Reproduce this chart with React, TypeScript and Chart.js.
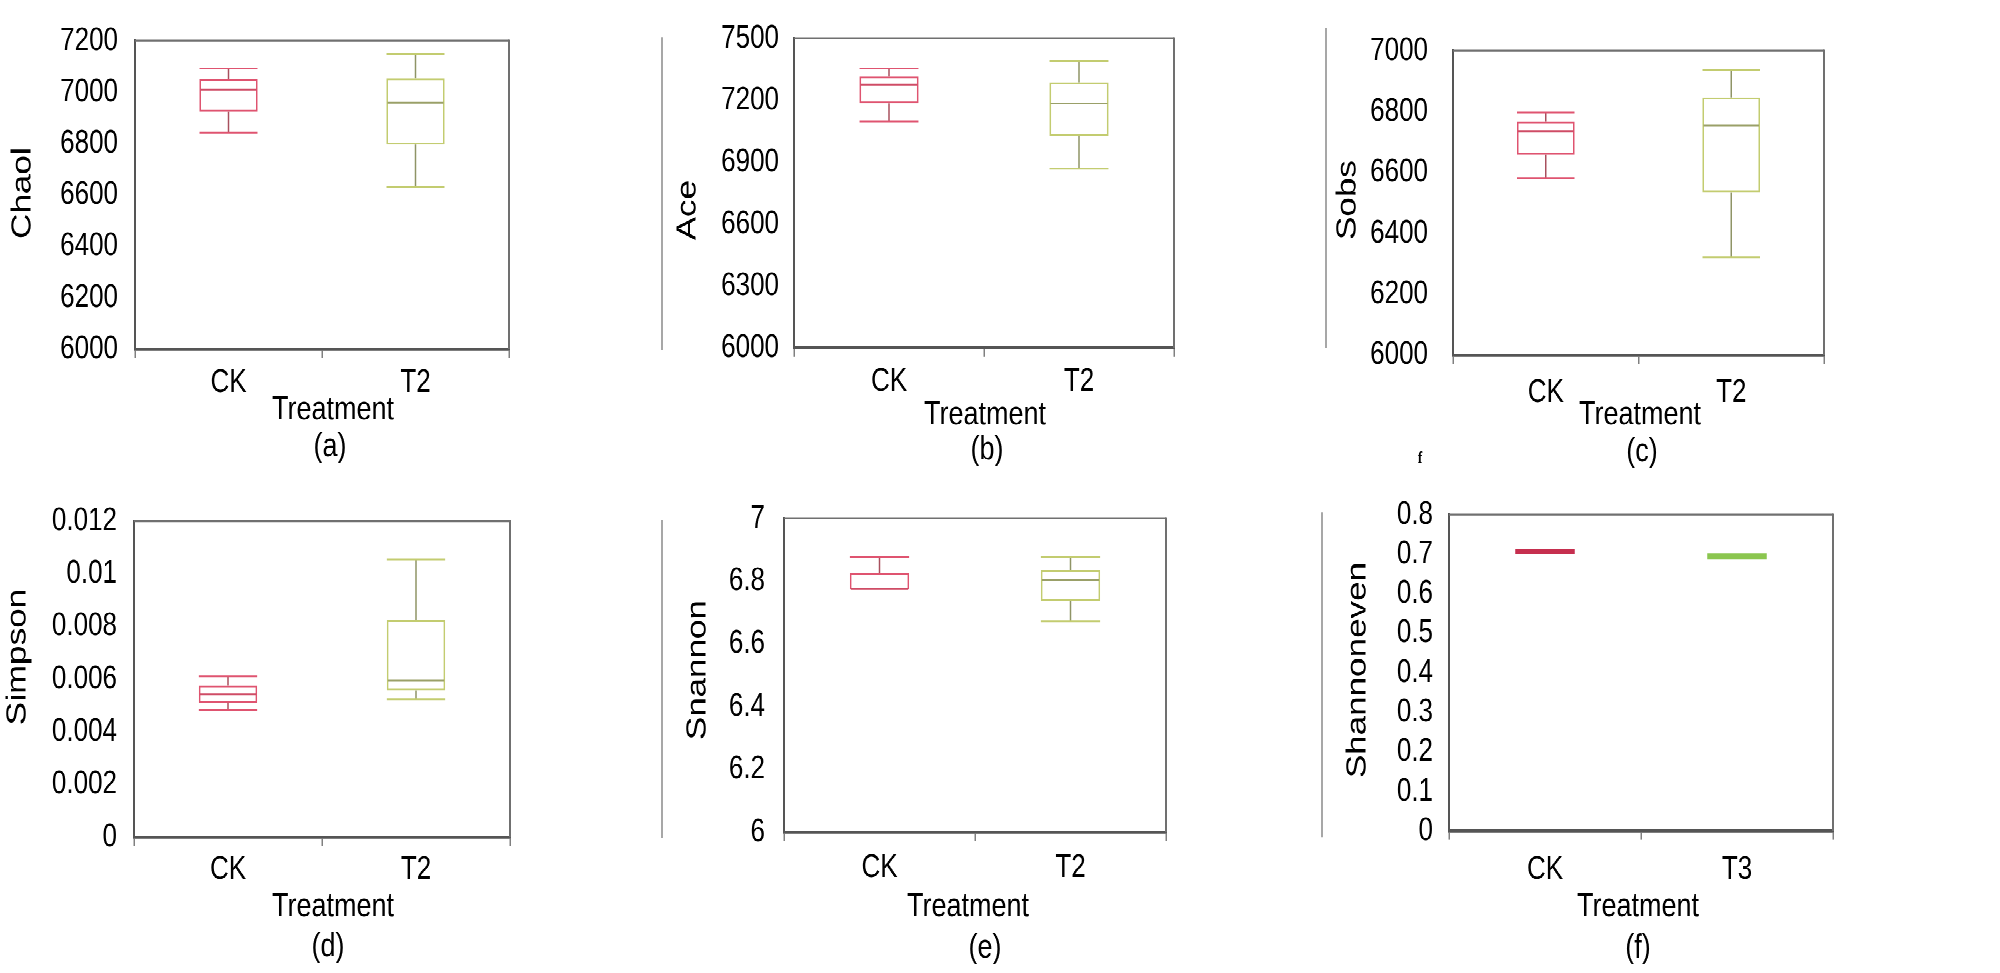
import React, { useEffect, useRef } from 'react';
import { Chart, registerables } from 'chart.js';

Chart.register(...registerables);

// ---------------- data ----------------
const chaolCategories = ['CK', 'T2'];
const chaolMin = [6842, 6632];
const chaolQ1 = [6924, 6796];
const chaolMedian = [7010, 6959];
const chaolQ3 = [7050, 7054];
const chaolMax = [7092, 7148];
const chaolTicks = [6000, 6200, 6400, 6600, 6800, 7000, 7200];
const chaolTickLabels = ['6000', '6200', '6400', '6600', '6800', '7000', '7200'];

const aceCategories = ['CK', 'T2'];
const aceMin = [7098, 6869];
const aceQ1 = [7185, 7027];
const aceMedian = [7276, 7184];
const aceQ3 = [7315, 7287];
const aceMax = [7354, 7390];
const aceTicks = [6000, 6300, 6600, 6900, 7200, 7500];
const aceTickLabels = ['6000', '6300', '6600', '6900', '7200', '7500'];

const sobsCategories = ['CK', 'T2'];
const sobsMin = [6582, 6321];
const sobsQ1 = [6658, 6535];
const sobsMedian = [6736, 6754];
const sobsQ3 = [6767, 6847];
const sobsMax = [6797, 6938];
const sobsTicks = [6000, 6200, 6400, 6600, 6800, 7000];
const sobsTickLabels = ['6000', '6200', '6400', '6600', '6800', '7000'];

const simpsonCategories = ['CK', 'T2'];
const simpsonMin = [0.00481, 0.00523];
const simpsonQ1 = [0.00511, 0.00557];
const simpsonMedian = [0.00542, 0.00594];
const simpsonQ3 = [0.00576, 0.00824];
const simpsonMax = [0.00611, 0.01054];
const simpsonTicks = [0, 0.002, 0.004, 0.006, 0.008, 0.01, 0.012];
const simpsonTickLabels = ['0', '0.002', '0.004', '0.006', '0.008', '0.01', '0.012'];

const shannonCategories = ['CK', 'T2'];
const shannonMin = [6.773, 6.672];
const shannonQ1 = [6.773, 6.736];
const shannonMedian = [6.775, 6.802];
const shannonQ3 = [6.825, 6.835];
const shannonMax = [6.876, 6.876];
const shannonTicks = [6, 6.2, 6.4, 6.6, 6.8, 7];
const shannonTickLabels = ['6', '6.2', '6.4', '6.6', '6.8', '7'];

const evenCategories = ['CK', 'T3'];
const evenMin = [0.7, 0.686];
const evenQ1 = [0.7, 0.686];
const evenMedian = [0.706, 0.694];
const evenQ3 = [0.712, 0.702];
const evenMax = [0.712, 0.702];
const evenTicks = [0, 0.1, 0.2, 0.3, 0.4, 0.5, 0.6, 0.7, 0.8];
const evenTickLabels = ['0', '0.1', '0.2', '0.3', '0.4', '0.5', '0.6', '0.7', '0.8'];

// ---------------- style / layout ----------------
const K = 1.25; // vertical stretch of the whole figure
const FONT = '"Liberation Sans", Arial, Helvetica, sans-serif';
const ROWS = [
  { y0: 0, h: 380 },
  { y0: 380, h: 398 },
];

const BOX_COLORS = ['#df5470', '#c3cc70'];
const MEDIAN_COLORS = ['#cf4c66', '#9aa068'];
const STEM_COLORS = ['#a8505e', '#8f9466'];
const FILL_COLORS = ['#c62f4f', '#8bc64f'];

type TitleItem = { text: string; x: number; y: number; rot?: boolean; font?: string };
type EdgeLine = { x: number; y0: number; y1: number };
type Geom = { cx0: number; cx1: number; row: number; L: number; R: number; T: number; B: number; yPad: number; xPad: number };
type PanelSpec = {
  key: string;
  categories: string[];
  mins: number[];
  q1s: number[];
  medians: number[];
  q3s: number[];
  maxs: number[];
  ticks: number[];
  tickLabels: string[];
  filled?: boolean;
  geom: Geom;
  titles: TitleItem[];
  edges?: EdgeLine[];
};

const YT = `28px ${FONT}`;
const XT = `27px ${FONT}`;

const PANELS: PanelSpec[] = [
  {
    key: 'a', categories: chaolCategories, mins: chaolMin, q1s: chaolQ1, medians: chaolMedian, q3s: chaolQ3, maxs: chaolMax,
    ticks: chaolTicks, tickLabels: chaolTickLabels,
    geom: { cx0: 0, cx1: 640, row: 0, L: 135, R: 509, T: 34, B: 349, yPad: 17, xPad: 4.5 },
    titles: [
      { text: 'Chaol', x: 23, y: 193, rot: true, font: YT },
      { text: 'Treatment', x: 333, y: 410, font: XT },
      { text: '(a)', x: 330, y: 447, font: XT },
    ],
  },
  {
    key: 'b', categories: aceCategories, mins: aceMin, q1s: aceQ1, medians: aceMedian, q3s: aceQ3, maxs: aceMax,
    ticks: aceTicks, tickLabels: aceTickLabels,
    geom: { cx0: 640, cx1: 1300, row: 0, L: 794, R: 1174, T: 28, B: 348, yPad: 15, xPad: 4.5 },
    titles: [
      { text: 'Ace', x: 688, y: 210, rot: true, font: YT },
      { text: 'Treatment', x: 985, y: 415, font: XT },
      { text: '(b)', x: 987, y: 450, font: XT },
    ],
    edges: [{ x: 662, y0: 37, y1: 350 }],
  },
  {
    key: 'c', categories: sobsCategories, mins: sobsMin, q1s: sobsQ1, medians: sobsMedian, q3s: sobsQ3, maxs: sobsMax,
    ticks: sobsTicks, tickLabels: sobsTickLabels,
    geom: { cx0: 1300, cx1: 2000, row: 0, L: 1453, R: 1824, T: 43, B: 355, yPad: 25, xPad: 7.5 },
    titles: [
      { text: 'Sobs', x: 1348, y: 200, rot: true, font: YT },
      { text: 'Treatment', x: 1640, y: 415, font: XT },
      { text: '(c)', x: 1642, y: 452, font: XT },
      { text: 'f', x: 1420, y: 458, font: `bold 13px "Liberation Serif", "DejaVu Serif", serif` },
    ],
    edges: [{ x: 1326, y0: 28, y1: 348 }],
  },
  {
    key: 'd', categories: simpsonCategories, mins: simpsonMin, q1s: simpsonQ1, medians: simpsonMedian, q3s: simpsonQ3, maxs: simpsonMax,
    ticks: simpsonTicks, tickLabels: simpsonTickLabels,
    geom: { cx0: 0, cx1: 640, row: 1, L: 134, R: 510, T: 521, B: 837, yPad: 17, xPad: 3.5 },
    titles: [
      { text: 'Simpson', x: 18, y: 657, rot: true, font: YT },
      { text: 'Treatment', x: 333, y: 907, font: XT },
      { text: '(d)', x: 328, y: 947, font: XT },
    ],
  },
  {
    key: 'e', categories: shannonCategories, mins: shannonMin, q1s: shannonQ1, medians: shannonMedian, q3s: shannonQ3, maxs: shannonMax,
    ticks: shannonTicks, tickLabels: shannonTickLabels,
    geom: { cx0: 640, cx1: 1300, row: 1, L: 784, R: 1166, T: 512, B: 832, yPad: 19, xPad: 6 },
    titles: [
      { text: 'Snannon', x: 698, y: 670, rot: true, font: YT },
      { text: 'Treatment', x: 968, y: 907, font: XT },
      { text: '(e)', x: 985, y: 948, font: XT },
    ],
    edges: [{ x: 662, y0: 520, y1: 838 }],
  },
  {
    key: 'f', categories: evenCategories, mins: evenMin, q1s: evenQ1, medians: evenMedian, q3s: evenQ3, maxs: evenMax,
    ticks: evenTicks, tickLabels: evenTickLabels, filled: true,
    geom: { cx0: 1300, cx1: 2000, row: 1, L: 1449, R: 1833, T: 510, B: 831, yPad: 16, xPad: 8.5 },
    titles: [
      { text: 'Shannoneven', x: 1358, y: 670, rot: true, font: YT },
      { text: 'Treatment', x: 1638, y: 907, font: XT },
      { text: '(f)', x: 1638, y: 948, font: XT },
    ],
    edges: [{ x: 1322, y0: 512, y1: 837 }],
  },
];

// ---------------- plugins ----------------
function makeWhiskerPlugin(spec: PanelSpec) {
  return {
    id: 'boxWhiskers',
    afterDatasetsDraw(chart: any) {
      const meta = chart.getDatasetMeta(0);
      const y = chart.scales.y;
      const ctx = chart.ctx as CanvasRenderingContext2D;
      const line = (x1: number, y1: number, x2: number, y2: number) => {
        ctx.beginPath();
        ctx.moveTo(x1, y1);
        ctx.lineTo(x2, y2);
        ctx.stroke();
      };
      ctx.save();
      ctx.lineWidth = 1.5;
      meta.data.forEach((bar: any, i: number) => {
        const { x, width } = bar.getProps(['x', 'width'], true);
        const half = width / 2;
        const pMin = y.getPixelForValue(spec.mins[i]);
        const pQ1 = y.getPixelForValue(spec.q1s[i]);
        const pMed = y.getPixelForValue(spec.medians[i]);
        const pQ3 = y.getPixelForValue(spec.q3s[i]);
        const pMax = y.getPixelForValue(spec.maxs[i]);
        const stem = spec.filled ? FILL_COLORS[i] : STEM_COLORS[i];
        const cap = spec.filled ? FILL_COLORS[i] : BOX_COLORS[i];
        const med = spec.filled ? FILL_COLORS[i] : MEDIAN_COLORS[i];
        ctx.strokeStyle = stem;
        if (pMax < pQ3) line(x, pQ3, x, pMax);
        if (pMin > pQ1) line(x, pQ1, x, pMin);
        ctx.strokeStyle = cap;
        if (pMax < pQ3 - 0.5) line(x - half, pMax, x + half, pMax);
        if (pMin > pQ1 + 0.5) line(x - half, pMin, x + half, pMin);
        ctx.strokeStyle = med;
        line(x - half + 1, pMed, x + half - 1, pMed);
      });
      ctx.restore();
    },
  };
}

const framePlugin = {
  id: 'frameTopRight',
  afterDraw(chart: any) {
    const { left, right, top, bottom } = chart.chartArea;
    const ctx = chart.ctx as CanvasRenderingContext2D;
    ctx.save();
    ctx.strokeStyle = '#707070';
    ctx.lineWidth = 1.6;
    ctx.beginPath();
    ctx.moveTo(left, top);
    ctx.lineTo(right, top);
    ctx.stroke();
    ctx.lineWidth = 2;
    ctx.beginPath();
    ctx.moveTo(right, top - 0.8);
    ctx.lineTo(right, bottom);
    ctx.stroke();
    ctx.restore();
  },
};

function makeTitlePlugin(spec: PanelSpec) {
  const g = spec.geom;
  const row = ROWS[g.row];
  return {
    id: 'panelTitles',
    afterDraw(chart: any) {
      const ctx = chart.ctx as CanvasRenderingContext2D;
      (spec.edges || []).forEach((e) => {
        ctx.save();
        ctx.strokeStyle = '#8a8a8a';
        ctx.lineWidth = 1.5;
        ctx.beginPath();
        ctx.moveTo(e.x - g.cx0, e.y0 / K - row.y0);
        ctx.lineTo(e.x - g.cx0, e.y1 / K - row.y0);
        ctx.stroke();
        ctx.restore();
      });
      spec.titles.forEach((t) => {
        ctx.save();
        ctx.translate(t.x - g.cx0, t.y / K - row.y0);
        if (t.rot) ctx.rotate(-Math.PI / 2);
        ctx.font = t.font || XT;
        ctx.fillStyle = '#000';
        ctx.textAlign = 'center';
        ctx.textBaseline = 'middle';
        ctx.fillText(t.text, 0, 0);
        ctx.restore();
      });
    },
  };
}

// ---------------- components ----------------
function Panel({ spec }: { spec: PanelSpec }) {
  const ref = useRef<HTMLCanvasElement>(null);
  const g = spec.geom;
  const row = ROWS[g.row];
  const width = g.cx1 - g.cx0;
  const height = row.h;

  useEffect(() => {
    const canvas = ref.current;
    if (!canvas) return;
    const padTop = g.T / K - row.y0;
    const xAxisH = row.y0 + row.h - g.B / K;
    const yAxisW = g.L - g.cx0;
    const padRight = g.cx1 - g.R;

    const chart = new Chart(canvas, {
      type: 'bar',
      data: {
        labels: spec.categories,
        datasets: [
          {
            data: spec.categories.map((_, i) => [spec.q1s[i], spec.q3s[i]]) as any,
            backgroundColor: spec.filled ? FILL_COLORS : 'rgba(0,0,0,0)',
            borderColor: spec.filled ? FILL_COLORS : BOX_COLORS,
            borderWidth: spec.filled ? 0 : 1.5,
            borderSkipped: false,
            barPercentage: 0.31,
            categoryPercentage: 1,
          },
        ],
      },
      options: {
        responsive: false,
        animation: false,
        devicePixelRatio: 2,
        events: [],
        layout: { padding: { top: padTop, right: padRight, left: 0, bottom: 0 } },
        plugins: {
          legend: { display: false },
          tooltip: { enabled: false },
          title: { display: false },
        },
        scales: {
          x: {
            grid: {
              display: true,
              drawOnChartArea: false,
              drawTicks: true,
              tickLength: 7,
              color: '#808080',
              lineWidth: 1.5,
              offset: true,
            },
            border: { display: true, color: '#555555', width: 2.4 },
            ticks: {
              font: { family: FONT, size: 26 },
              color: '#000',
              padding: g.xPad,
              autoSkip: false,
              maxRotation: 0,
            },
            afterFit: (s: any) => {
              s.height = xAxisH;
            },
          },
          y: {
            min: spec.ticks[0],
            max: spec.ticks[spec.ticks.length - 1],
            grid: { display: false, drawTicks: false },
            border: { display: true, color: '#555555', width: 2 },
            ticks: {
              font: { family: FONT, size: 26 },
              color: '#000',
              padding: g.yPad,
              autoSkip: false,
              callback: (_v: any, i: number) => spec.tickLabels[i],
            },
            afterBuildTicks: (s: any) => {
              s.ticks = spec.ticks.map((v) => ({ value: v }));
            },
            afterFit: (s: any) => {
              s.width = yAxisW;
            },
          },
        },
      } as any,
      plugins: [makeWhiskerPlugin(spec), framePlugin, makeTitlePlugin(spec)],
    });
    return () => chart.destroy();
  }, []);

  return (
    <canvas
      ref={ref}
      width={width}
      height={height}
      style={{ position: 'absolute', left: g.cx0, top: row.y0, width, height }}
    />
  );
}

export default function App() {
  useEffect(() => {
    document.body.style.overflow = 'hidden';
  }, []);
  return (
    <div
      style={{
        position: 'absolute',
        left: 0,
        top: 0,
        width: 2000,
        height: 778,
        transform: `scaleY(${K})`,
        transformOrigin: '0 0',
        background: '#ffffff',
      }}
    >
      {PANELS.map((p) => (
        <Panel key={p.key} spec={p} />
      ))}
    </div>
  );
}
